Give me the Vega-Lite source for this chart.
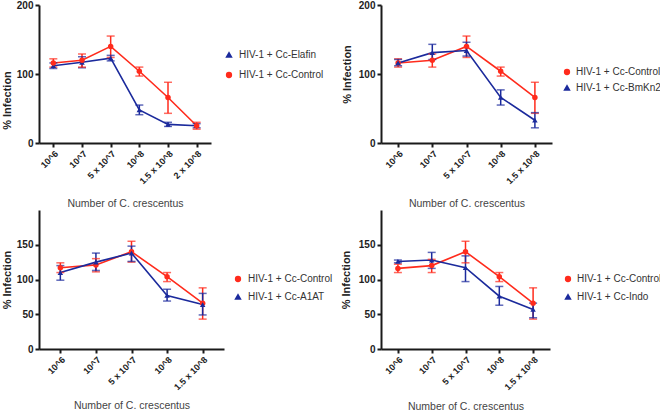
{
  "$schema": "https://vega.github.io/schema/vega-lite/v6.json",
  "padding": {"left": 0, "top": 0, "right": 0, "bottom": 0},
  "background": "white",
  "config": {
    "font": "Liberation Sans",
    "view": {"stroke": null},
    "axis": {"domainColor": "#1a1a1a", "domainWidth": 2, "tickColor": "#1a1a1a", "tickWidth": 2, "tickSize": 4, "labelColor": "#222222", "labelFontWeight": "bold", "labelFontSize": 10, "grid": false, "titleColor": "#222222"},
    "axisX": {"labelAngle": -45, "labelFontSize": 9, "titleFontWeight": "normal", "titleFontSize": 10.5, "titleColor": "#444444", "titleY": 60, "titleBaseline": "middle"},
    "axisY": {"titleFontWeight": "bold", "titleFontSize": 11, "titleX": -32, "titleBaseline": "middle"},
    "legend": {"orient": "none", "labelFontSize": 10, "labelColor": "#333333", "symbolSize": 22, "rowPadding": 8, "padding": 0, "labelOffset": 5, "title": null},
    "line": {"strokeWidth": 1.6},
    "rule": {"strokeWidth": 1.5},
    "tick": {"thickness": 1.5, "size": 8}
  },
  "datasets": {
    "p1": [
      {"s": "HIV-1 + Cc-Elafin", "x": "10^6", "m": 112, "lo": 108, "hi": 116},
      {"s": "HIV-1 + Cc-Elafin", "x": "10^7", "m": 117, "lo": 109, "hi": 125},
      {"s": "HIV-1 + Cc-Elafin", "x": "5 x 10^7", "m": 123, "lo": 119, "hi": 127},
      {"s": "HIV-1 + Cc-Elafin", "x": "10^8", "m": 48, "lo": 41, "hi": 55},
      {"s": "HIV-1 + Cc-Elafin", "x": "1.5 x 10^8", "m": 27, "lo": 24, "hi": 30},
      {"s": "HIV-1 + Cc-Elafin", "x": "2 x 10^8", "m": 25, "lo": 22, "hi": 28},
      {"s": "HIV-1 + Cc-Control", "x": "10^6", "m": 116, "lo": 110, "hi": 122},
      {"s": "HIV-1 + Cc-Control", "x": "10^7", "m": 120, "lo": 110, "hi": 129},
      {"s": "HIV-1 + Cc-Control", "x": "5 x 10^7", "m": 140, "lo": 124, "hi": 155},
      {"s": "HIV-1 + Cc-Control", "x": "10^8", "m": 104, "lo": 97, "hi": 110},
      {"s": "HIV-1 + Cc-Control", "x": "1.5 x 10^8", "m": 66, "lo": 43, "hi": 88},
      {"s": "HIV-1 + Cc-Control", "x": "2 x 10^8", "m": 25, "lo": 20, "hi": 30}
    ],
    "p2": [
      {"s": "HIV-1 + Cc-Control", "x": "10^6", "m": 116, "lo": 110, "hi": 122},
      {"s": "HIV-1 + Cc-Control", "x": "10^7", "m": 120, "lo": 110, "hi": 129},
      {"s": "HIV-1 + Cc-Control", "x": "5 x 10^7", "m": 140, "lo": 124, "hi": 155},
      {"s": "HIV-1 + Cc-Control", "x": "10^8", "m": 104, "lo": 97, "hi": 110},
      {"s": "HIV-1 + Cc-Control", "x": "1.5 x 10^8", "m": 66, "lo": 43, "hi": 88},
      {"s": "HIV-1 + Cc-BmKn2", "x": "10^6", "m": 116, "lo": 112, "hi": 121},
      {"s": "HIV-1 + Cc-BmKn2", "x": "10^7", "m": 131, "lo": 121, "hi": 143},
      {"s": "HIV-1 + Cc-BmKn2", "x": "5 x 10^7", "m": 134, "lo": 126, "hi": 146},
      {"s": "HIV-1 + Cc-BmKn2", "x": "10^8", "m": 66, "lo": 55, "hi": 77},
      {"s": "HIV-1 + Cc-BmKn2", "x": "1.5 x 10^8", "m": 33, "lo": 22, "hi": 44}
    ],
    "p3": [
      {"s": "HIV-1 + Cc-Control", "x": "10^6", "m": 117, "lo": 110, "hi": 124},
      {"s": "HIV-1 + Cc-Control", "x": "10^7", "m": 121, "lo": 111, "hi": 130},
      {"s": "HIV-1 + Cc-Control", "x": "5 x 10^7", "m": 140, "lo": 125, "hi": 155},
      {"s": "HIV-1 + Cc-Control", "x": "10^8", "m": 104, "lo": 97, "hi": 110},
      {"s": "HIV-1 + Cc-Control", "x": "1.5 x 10^8", "m": 66, "lo": 43, "hi": 88},
      {"s": "HIV-1 + Cc-A1AT", "x": "10^6", "m": 110, "lo": 99, "hi": 120},
      {"s": "HIV-1 + Cc-A1AT", "x": "10^7", "m": 125, "lo": 113, "hi": 138},
      {"s": "HIV-1 + Cc-A1AT", "x": "5 x 10^7", "m": 138, "lo": 126, "hi": 148},
      {"s": "HIV-1 + Cc-A1AT", "x": "10^8", "m": 77, "lo": 69, "hi": 86},
      {"s": "HIV-1 + Cc-A1AT", "x": "1.5 x 10^8", "m": 64, "lo": 49, "hi": 80}
    ],
    "p4": [
      {"s": "HIV-1 + Cc-Control", "x": "10^6", "m": 116, "lo": 110, "hi": 122},
      {"s": "HIV-1 + Cc-Control", "x": "10^7", "m": 120, "lo": 110, "hi": 129},
      {"s": "HIV-1 + Cc-Control", "x": "5 x 10^7", "m": 140, "lo": 124, "hi": 155},
      {"s": "HIV-1 + Cc-Control", "x": "10^8", "m": 104, "lo": 97, "hi": 110},
      {"s": "HIV-1 + Cc-Control", "x": "1.5 x 10^8", "m": 66, "lo": 43, "hi": 88},
      {"s": "HIV-1 + Cc-Indo", "x": "10^6", "m": 126, "lo": 124, "hi": 128},
      {"s": "HIV-1 + Cc-Indo", "x": "10^7", "m": 128, "lo": 116, "hi": 139},
      {"s": "HIV-1 + Cc-Indo", "x": "5 x 10^7", "m": 117, "lo": 97, "hi": 134},
      {"s": "HIV-1 + Cc-Indo", "x": "10^8", "m": 76, "lo": 63, "hi": 90},
      {"s": "HIV-1 + Cc-Indo", "x": "1.5 x 10^8", "m": 57, "lo": 45, "hi": 66}
    ]
  },
  "bounds": "flush",
  "columns": 2,
  "spacing": {"row": 67, "column": 157},
  "resolve": {"scale": {"color": "independent", "shape": "independent", "x": "independent", "y": "independent"}},
  "concat": [
    {
      "width": 172, "height": 138,
      "data": {"name": "p1"},
      "encoding": {
        "x": {"field": "x", "type": "ordinal", "sort": ["10^6", "10^7", "5 x 10^7", "10^8", "1.5 x 10^8", "2 x 10^8"], "scale": {"type": "point", "padding": 0.5}, "axis": {"title": "Number of C. crescentus"}},
        "color": {"field": "s", "type": "nominal", "scale": {"domain": ["HIV-1 + Cc-Elafin", "HIV-1 + Cc-Control"], "range": ["#1b2a9c", "#ff2b1c"]}, "legend": {"legendX": 185, "legendY": 45, "rowPadding": 8}}
      },
      "layer": [
        {"mark": {"type": "line"}, "encoding": {"y": {"field": "m", "type": "quantitative", "scale": {"domain": [0, 200]}, "title": "% Infection", "axis": {"values": [0, 50, 100, 150, 200], "titleY": 95}}}},
        {"mark": {"type": "rule"}, "encoding": {"y": {"field": "lo", "type": "quantitative", "title": "% Infection"}, "y2": {"field": "hi"}}},
        {"mark": {"type": "tick"}, "encoding": {"y": {"field": "lo", "type": "quantitative", "title": "% Infection"}}},
        {"mark": {"type": "tick"}, "encoding": {"y": {"field": "hi", "type": "quantitative", "title": "% Infection"}}},
        {"mark": {"type": "point", "filled": true, "opacity": 1, "size": 30}, "encoding": {"y": {"field": "m", "type": "quantitative", "title": "% Infection"}, "shape": {"field": "s", "type": "nominal", "scale": {"domain": ["HIV-1 + Cc-Elafin", "HIV-1 + Cc-Control"], "range": ["triangle-up", "circle"]}, "legend": {"legendX": 185, "legendY": 45, "rowPadding": 8}}}}
      ]
    },
    {
      "width": 171, "height": 138,
      "data": {"name": "p2"},
      "encoding": {
        "x": {"field": "x", "type": "ordinal", "sort": ["10^6", "10^7", "5 x 10^7", "10^8", "1.5 x 10^8"], "scale": {"type": "point", "padding": 0.5}, "axis": {"title": "Number of C. crescentus"}},
        "color": {"field": "s", "type": "nominal", "scale": {"domain": ["HIV-1 + Cc-Control", "HIV-1 + Cc-BmKn2"], "range": ["#ff2b1c", "#1b2a9c"]}, "legend": {"legendX": 181, "legendY": 62, "rowPadding": 4, "labelOffset": 4}}
      },
      "layer": [
        {"mark": {"type": "line"}, "encoding": {"y": {"field": "m", "type": "quantitative", "scale": {"domain": [0, 200]}, "title": "% Infection", "axis": {"values": [0, 50, 100, 150, 200], "titleX": -34}}}},
        {"mark": {"type": "rule"}, "encoding": {"y": {"field": "lo", "type": "quantitative", "title": "% Infection"}, "y2": {"field": "hi"}}},
        {"mark": {"type": "tick"}, "encoding": {"y": {"field": "lo", "type": "quantitative", "title": "% Infection"}}},
        {"mark": {"type": "tick"}, "encoding": {"y": {"field": "hi", "type": "quantitative", "title": "% Infection"}}},
        {"mark": {"type": "point", "filled": true, "opacity": 1, "size": 30}, "encoding": {"y": {"field": "m", "type": "quantitative", "title": "% Infection"}, "shape": {"field": "s", "type": "nominal", "scale": {"domain": ["HIV-1 + Cc-Control", "HIV-1 + Cc-BmKn2"], "range": ["circle", "triangle-up"]}, "legend": {"legendX": 181, "legendY": 62, "rowPadding": 4, "labelOffset": 4}}}}
      ]
    },
    {
      "width": 185, "height": 139,
      "data": {"name": "p3"},
      "encoding": {
        "x": {"field": "x", "type": "ordinal", "sort": ["10^6", "10^7", "5 x 10^7", "10^8", "1.5 x 10^8"], "scale": {"type": "point", "padding": 0.6}, "axis": {"title": "Number of C. crescentus", "titleY": 56}},
        "color": {"field": "s", "type": "nominal", "scale": {"domain": ["HIV-1 + Cc-Control", "HIV-1 + Cc-A1AT"], "range": ["#ff2b1c", "#1b2a9c"]}, "legend": {"legendX": 194, "legendY": 64, "rowPadding": 6}}
      },
      "layer": [
        {"mark": {"type": "line"}, "encoding": {"y": {"field": "m", "type": "quantitative", "scale": {"domain": [0, 200]}, "title": "% Infection", "axis": {"values": [0, 50, 100, 150]}}}},
        {"mark": {"type": "rule"}, "encoding": {"y": {"field": "lo", "type": "quantitative", "title": "% Infection"}, "y2": {"field": "hi"}}},
        {"mark": {"type": "tick"}, "encoding": {"y": {"field": "lo", "type": "quantitative", "title": "% Infection"}}},
        {"mark": {"type": "tick"}, "encoding": {"y": {"field": "hi", "type": "quantitative", "title": "% Infection"}}},
        {"mark": {"type": "point", "filled": true, "opacity": 1, "size": 30}, "encoding": {"y": {"field": "m", "type": "quantitative", "title": "% Infection"}, "shape": {"field": "s", "type": "nominal", "scale": {"domain": ["HIV-1 + Cc-Control", "HIV-1 + Cc-A1AT"], "range": ["circle", "triangle-up"]}, "legend": {"legendX": 194, "legendY": 64, "rowPadding": 6}}}}
      ]
    },
    {
      "width": 169, "height": 139,
      "data": {"name": "p4"},
      "encoding": {
        "x": {"field": "x", "type": "ordinal", "sort": ["10^6", "10^7", "5 x 10^7", "10^8", "1.5 x 10^8"], "scale": {"type": "point", "padding": 0.5}, "axis": {"title": "Number of C. crescentus", "titleY": 57}},
        "color": {"field": "s", "type": "nominal", "scale": {"domain": ["HIV-1 + Cc-Control", "HIV-1 + Cc-Indo"], "range": ["#ff2b1c", "#1b2a9c"]}, "legend": {"legendX": 182, "legendY": 64, "rowPadding": 6, "labelOffset": 4}}
      },
      "layer": [
        {"mark": {"type": "line"}, "encoding": {"y": {"field": "m", "type": "quantitative", "scale": {"domain": [0, 200]}, "title": "% Infection", "axis": {"values": [0, 50, 100, 150], "titleX": -35}}}},
        {"mark": {"type": "rule"}, "encoding": {"y": {"field": "lo", "type": "quantitative", "title": "% Infection"}, "y2": {"field": "hi"}}},
        {"mark": {"type": "tick"}, "encoding": {"y": {"field": "lo", "type": "quantitative", "title": "% Infection"}}},
        {"mark": {"type": "tick"}, "encoding": {"y": {"field": "hi", "type": "quantitative", "title": "% Infection"}}},
        {"mark": {"type": "point", "filled": true, "opacity": 1, "size": 30}, "encoding": {"y": {"field": "m", "type": "quantitative", "title": "% Infection"}, "shape": {"field": "s", "type": "nominal", "scale": {"domain": ["HIV-1 + Cc-Control", "HIV-1 + Cc-Indo"], "range": ["circle", "triangle-up"]}, "legend": {"legendX": 182, "legendY": 64, "rowPadding": 6, "labelOffset": 4}}}}
      ]
    }
  ]
}
